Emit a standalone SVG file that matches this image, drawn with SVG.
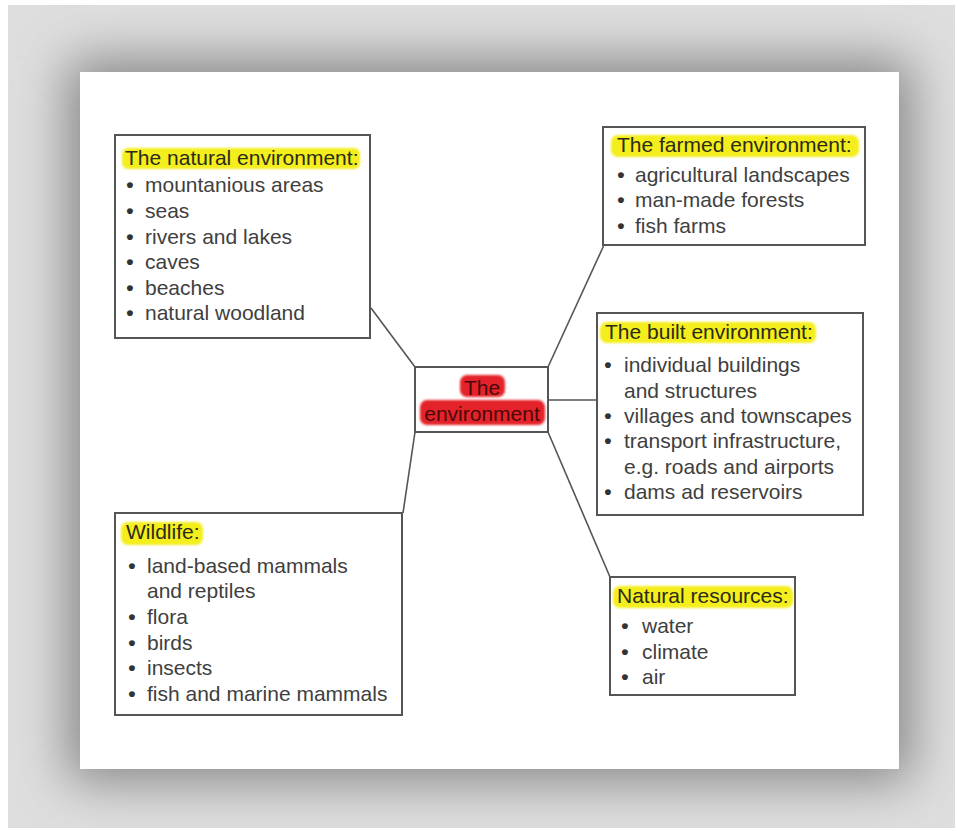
<svg xmlns="http://www.w3.org/2000/svg" width="958" height="831" viewBox="0 0 958 831">
<style>
text{font-family:"Liberation Sans",Arial,sans-serif;font-size:21px;fill:#404040}
.t{fill:#2b2b18}
.c{fill:#4a0808;text-anchor:middle}
.b{text-anchor:middle;font-weight:bold;fill:#333}
.box{fill:#fff;stroke:#555;stroke-width:2}
.hl{fill:#f4ee1e}
.red{fill:#e4222a}
.con line{stroke:#555;stroke-width:1.6}
</style>
<defs>
<filter id="blur" filterUnits="userSpaceOnUse" x="0" y="0" width="958" height="831"><feGaussianBlur stdDeviation="26"/></filter>
<filter id="soft" x="-10%" y="-30%" width="120%" height="160%"><feGaussianBlur stdDeviation="1.2"/></filter>
<clipPath id="frame"><rect x="8" y="5" width="947" height="823"/></clipPath>
</defs>
<rect width="958" height="831" fill="#fff"/>
<g clip-path="url(#frame)">
<rect x="8" y="5" width="947" height="823" fill="#dedede"/>
<rect x="68" y="60" width="843" height="721" fill="#858585" filter="url(#blur)"/>
</g>
<rect x="80" y="72" width="819" height="697" fill="#fff"/>
<g class="con">
<line x1="371" y1="308" x2="415" y2="367"/>
<line x1="604" y1="245" x2="548" y2="367"/>
<line x1="548" y1="400" x2="597" y2="400"/>
<line x1="403" y1="513" x2="415" y2="432"/>
<line x1="548" y1="432" x2="610" y2="577"/>
</g>
<g id="center">
<rect class="box" x="415" y="367" width="133" height="65"/>
<rect class="red" x="460" y="375" width="45" height="22" rx="7" filter="url(#soft)"/>
<rect class="red" x="420" y="400" width="125" height="25" rx="7" filter="url(#soft)"/>
<text class="c" x="482" y="395">The</text>
<text class="c" x="482" y="421">environment</text>
</g>
<g id="natural">
<rect class="box" x="115" y="135" width="255" height="203"/>
<rect class="hl" x="122" y="148" width="238" height="21" rx="6" filter="url(#soft)"/>
<text class="t" x="125" y="165">The natural environment:</text>
<text class="b" x="130" y="192">•</text><text x="145" y="192">mountanious areas</text>
<text class="b" x="130" y="218">•</text><text x="145" y="218">seas</text>
<text class="b" x="130" y="244">•</text><text x="145" y="244">rivers and lakes</text>
<text class="b" x="130" y="269">•</text><text x="145" y="269">caves</text>
<text class="b" x="130" y="295">•</text><text x="145" y="295">beaches</text>
<text class="b" x="130" y="320">•</text><text x="145" y="320">natural woodland</text>
</g>
<g id="farmed">
<rect class="box" x="603" y="127" width="262" height="118"/>
<rect class="hl" x="611" y="135" width="248" height="22" rx="7" filter="url(#soft)"/>
<text class="t" x="617" y="152">The farmed environment:</text>
<text class="b" x="621" y="182">•</text><text x="635" y="182">agricultural landscapes</text>
<text class="b" x="621" y="207">•</text><text x="635" y="207">man-made forests</text>
<text class="b" x="621" y="233">•</text><text x="635" y="233">fish farms</text>
</g>
<g id="built">
<rect class="box" x="597" y="313" width="266" height="202"/>
<rect class="hl" x="600" y="322" width="216" height="21" rx="7" filter="url(#soft)"/>
<text class="t" x="605" y="339">The built environment:</text>
<text class="b" x="608" y="372">•</text><text x="624" y="372">individual buildings</text>
<text x="624" y="398">and structures</text>
<text class="b" x="608" y="423">•</text><text x="624" y="423">villages and townscapes</text>
<text class="b" x="608" y="448">•</text><text x="624" y="448">transport infrastructure,</text>
<text x="624" y="474">e.g. roads and airports</text>
<text class="b" x="608" y="499">•</text><text x="624" y="499">dams ad reservoirs</text>
</g>
<g id="wildlife">
<rect class="box" x="115" y="513" width="287" height="202"/>
<rect class="hl" x="121" y="522" width="82" height="23" rx="7" filter="url(#soft)"/>
<text class="t" x="126" y="539">Wildlife:</text>
<text class="b" x="132" y="573">•</text><text x="147" y="573">land-based mammals</text>
<text x="147" y="598">and reptiles</text>
<text class="b" x="132" y="624">•</text><text x="147" y="624">flora</text>
<text class="b" x="132" y="650">•</text><text x="147" y="650">birds</text>
<text class="b" x="132" y="675">•</text><text x="147" y="675">insects</text>
<text class="b" x="132" y="701">•</text><text x="147" y="701">fish and marine mammals</text>
</g>
<g id="resources">
<rect class="box" x="610" y="577" width="185" height="118"/>
<rect class="hl" x="613" y="586" width="180" height="22" rx="7" filter="url(#soft)"/>
<text class="t" x="617" y="603">Natural resources:</text>
<text class="b" x="625" y="633">•</text><text x="642" y="633">water</text>
<text class="b" x="625" y="659">•</text><text x="642" y="659">climate</text>
<text class="b" x="625" y="684">•</text><text x="642" y="684">air</text>
</g>
</svg>
